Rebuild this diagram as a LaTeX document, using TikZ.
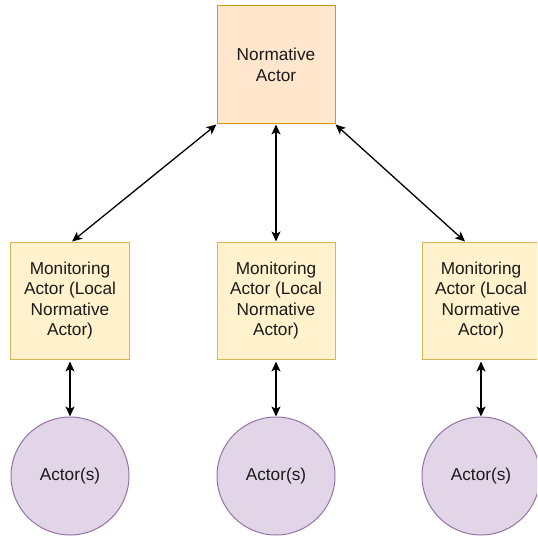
\documentclass[tikz,border=0pt]{standalone}
\usepackage{fontspec}
\setmainfont{Liberation Sans}
\usetikzlibrary{arrows.meta}
\definecolor{normfill}{HTML}{FFE6CC}
\definecolor{normdraw}{HTML}{D79B00}
\definecolor{monfill}{HTML}{FFF2CC}
\definecolor{mondraw}{HTML}{D6B656}
\definecolor{actfill}{HTML}{E1D5E7}
\definecolor{actdraw}{HTML}{9673A6}
\definecolor{txt}{HTML}{1A1A1A}
\tikzset{
  base/.style={align=center, text=txt, font=\fontsize{17.3}{20.6}\selectfont, line width=1bp, inner sep=0pt},
  normbox/.style={base, draw=normdraw, fill=normfill, minimum width=118bp, minimum height=118bp},
  monbox/.style={base, draw=mondraw, fill=monfill, minimum width=118bp, minimum height=117bp},
  actcircle/.style={base, circle, draw=actdraw, fill=actfill, minimum size=118bp},
  link/.style={line width=1.3bp, {Stealth[length=10bp,width=9bp,inset=2.5bp]}-{Stealth[length=10bp,width=9bp,inset=2.5bp]}}
}
\begin{document}
\begin{tikzpicture}[x=1bp,y=-1bp]
\useasboundingbox (0,0) rectangle (537,537);
\clip (0,0) rectangle (537,537);

\node[normbox] (top) at (276,65) {Normative\\Actor};

\node[monbox] (m1) at (70,300.5) {Monitoring\\Actor (Local\\Normative\\Actor)};
\node[monbox] (m2) at (276,300.5) {Monitoring\\Actor (Local\\Normative\\Actor)};
\node[monbox] (m3) at (481,300.5) {Monitoring\\Actor (Local\\Normative\\Actor)};

\node[actcircle] (a1) at (70,476) {Actor(s)};
\node[actcircle] (a2) at (276,476) {Actor(s)};
\node[actcircle] (a3) at (481,476) {Actor(s)};

% links from the normative actor down to the monitors
\draw[link] (top.south west) -- ([xshift=2bp]m1.north);
\draw[link] (top.south) -- (m2.north);
\draw[link] (top.south east) -- ([xshift=-16bp]m3.north);

% links from each monitor to its actors
\draw[link, shorten <=2bp] (m1.south) -- (a1.north);
\draw[link, shorten <=2bp] (m2.south) -- (a2.north);
\draw[link, shorten <=2bp] (m3.south) -- (a3.north);
\end{tikzpicture}
\end{document}
